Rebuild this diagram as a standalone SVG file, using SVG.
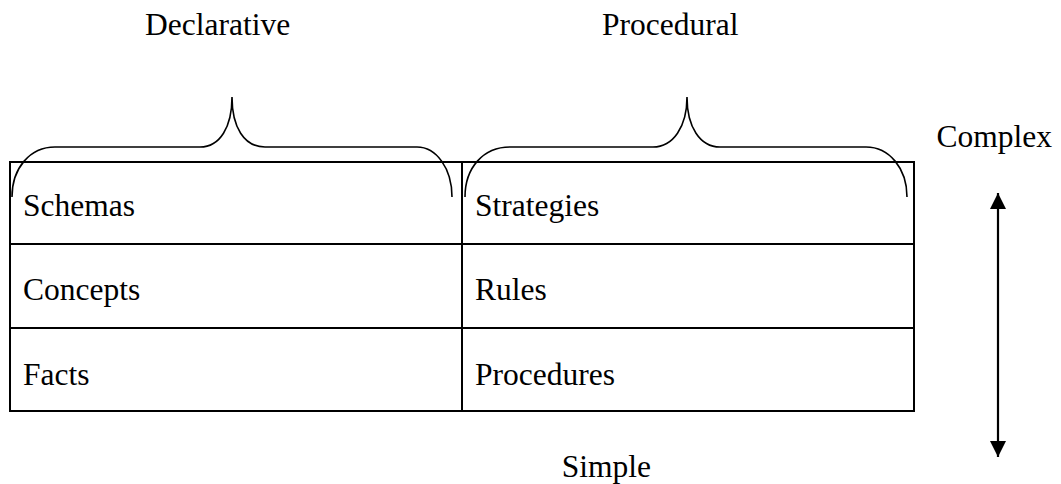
<svg xmlns="http://www.w3.org/2000/svg" width="1061" height="484" viewBox="0 0 1061 484">
<style>
text{font-family:"Liberation Serif","Times New Roman",serif;font-size:31.5px;fill:#000}
.grid{fill:none;stroke:#000;stroke-width:2}
.brace{fill:none;stroke:#000;stroke-width:1.6}
.arr{stroke:#000;stroke-width:2.2}
</style>
<defs>
<marker id="ah" viewBox="0 0 10 10" refX="10" refY="5" markerWidth="7.3" markerHeight="7.3" markerUnits="strokeWidth" orient="auto-start-reverse">
<path d="M0,0 L10,5 L0,10 Z" fill="#000"/>
</marker>
</defs>
<rect width="1061" height="484" fill="#fff"/>
<g id="labels">
<text x="145" y="35">Declarative</text>
<text x="602" y="35">Procedural</text>
<text x="1052" y="147" text-anchor="end">Complex</text>
<text x="651" y="477" text-anchor="end">Simple</text>
</g>
<g id="table">
<rect class="grid" x="10" y="162" width="904" height="249"/>
<line class="grid" x1="462" y1="162" x2="462" y2="411"/>
<line class="grid" x1="10" y1="244" x2="914" y2="244"/>
<line class="grid" x1="10" y1="328" x2="914" y2="328"/>
</g>
<g id="cell-schemas"><text x="23" y="216">Schemas</text></g>
<g id="cell-concepts"><text x="23" y="300">Concepts</text></g>
<g id="cell-facts"><text x="23" y="385">Facts</text></g>
<g id="cell-strategies"><text x="475" y="216">Strategies</text></g>
<g id="cell-rules"><text x="475" y="300">Rules</text></g>
<g id="cell-procedures"><text x="475" y="385">Procedures</text></g>
<g id="braces">
<path class="brace" d="M12,197 C12,168 30,147 55,147 L200,147 C220,147 232,127 232,97 C232,127 244,147 265,147 L417,147 C436,147 452,168 452,197"/>
<path class="brace" d="M465,197 C465,168 483,147 510,147 L653,147 C673,147 687,127 687,97 C687,127 700,147 720,147 L866,147 C889,147 907,168 907,197"/>
</g>
<g id="connectors">
<line class="arr" x1="998" y1="193" x2="998" y2="457" marker-start="url(#ah)" marker-end="url(#ah)"/>
</g>
</svg>
